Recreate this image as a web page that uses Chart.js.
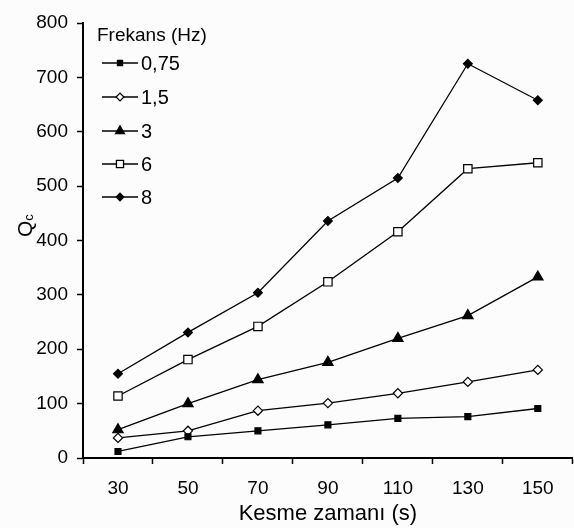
<!DOCTYPE html>
<html>
<head>
<meta charset="utf-8">
<script src="https://cdn.jsdelivr.net/npm/chart.js@4/dist/chart.umd.min.js"></script>
<style>
  html, body { margin: 0; padding: 0; background: #fcfcfc; overflow: hidden; }
  #wrap { width: 580px; height: 528px; }
</style>
</head>
<body>
<div id="wrap"><canvas id="chart" width="580" height="528"></canvas></div>
<script>
// ── Data ──────────────────────────────────────────────────
const times   = ['30', '50', '70', '90', '110', '130', '150'];
const q075    = [12, 39, 50, 61, 73, 76, 91];
const q15     = [37, 50, 87, 101, 119, 140, 162];
const q3      = [52, 100, 144, 176, 220, 262, 333];
const q6      = [114, 181, 242, 324, 416, 532, 543];
const q8      = [155, 231, 304, 436, 515, 725, 658];
const yTicks  = [0, 100, 200, 300, 400, 500, 600, 700, 800];

const FONT = '"Liberation Sans", Arial, sans-serif';

function series(label, data, style, radius, filled) {
  return {
    label, data,
    borderColor: '#000',
    borderWidth: 1.3,
    pointStyle: style,
    pointRadius: radius,
    pointHoverRadius: radius,
    pointBackgroundColor: filled ? '#000' : '#fff',
    pointBorderColor: '#000',
    pointBorderWidth: 1.2,
    tension: 0,
    fill: false
  };
}

// ── Legend + y title (drawn on canvas) ────────────────────
const legendPlugin = {
  id: 'excelLegend',
  afterDraw(chart) {
    const ctx = chart.ctx;
    ctx.save();
    ctx.fillStyle = '#000';
    ctx.textBaseline = 'middle';
    ctx.font = '19px ' + FONT;
    ctx.fillText('Frekans (Hz)', 97, 36);

    const rows = [63, 97, 131, 164, 197];
    chart.data.datasets.forEach((ds, i) => {
      const y = rows[i];
      ctx.strokeStyle = '#000';
      ctx.lineWidth = 1.3;
      ctx.beginPath();
      ctx.moveTo(102, y);
      ctx.lineTo(138, y);
      ctx.stroke();
      ctx.fillStyle = ds.pointBackgroundColor;
      Chart.helpers.drawPoint(ctx, {
        pointStyle: ds.pointStyle,
        radius: ds.pointRadius * 0.85,
        rotation: 0,
        borderWidth: 1.2
      }, 120, y);
      ctx.fillStyle = '#000';
      ctx.font = '20px ' + FONT;
      ctx.fillText(ds.label, 141, y + 1);
    });

    // Q with subscript c, rotated
    ctx.translate(32, 226);
    ctx.rotate(-Math.PI / 2);
    ctx.textBaseline = 'alphabetic';
    ctx.font = '21px ' + FONT;
    const qw = ctx.measureText('Q').width;
    ctx.fillText('Q', -11, 0);
    ctx.font = '13px ' + FONT;
    ctx.fillText('c', -11 + qw, 1);
    ctx.restore();
  }
};

new Chart(document.getElementById('chart'), {
  type: 'line',
  data: {
    labels: times,
    datasets: [
      series('0,75', q075, 'rect', 4.2, true),
      series('1,5', q15, 'rectRot', 4.6, false),
      series('3', q3, 'triangle', 6, true),
      series('6', q6, 'rect', 5.9, false),
      series('8', q8, 'rectRot', 4.4, true)
    ]
  },
  options: {
    responsive: false,
    animation: false,
    layout: { padding: { top: 23, right: 1, left: 0, bottom: 0 } },
    plugins: { legend: { display: false }, tooltip: { enabled: false } },
    scales: {
      x: {
        type: 'category',
        offset: true,
        grid: { offset: true, drawOnChartArea: false, color: '#000', tickLength: 6, tickWidth: 1.5 },
        border: { color: '#000', width: 2 },
        ticks: { color: '#000', font: { family: FONT, size: 19 }, padding: 13, maxRotation: 0 },
        title: { display: true, text: 'Kesme zamanı (s)', color: '#000',
                 font: { family: FONT, size: 22 }, padding: { top: 0, bottom: 1 } },
        afterFit: s => { s.height = 70; }
      },
      y: {
        min: 0, max: 800,
        afterBuildTicks: s => { s.ticks = yTicks.map(v => ({ value: v })); },
        grid: { drawOnChartArea: false, color: '#000', tickLength: 6, tickWidth: 1.5 },
        border: { color: '#000', width: 2 },
        ticks: { color: '#000', font: { family: FONT, size: 19 }, padding: 9 },
        afterFit: s => { s.width = 83; }
      }
    }
  },
  plugins: [legendPlugin]
});
</script>
</body>
</html>
